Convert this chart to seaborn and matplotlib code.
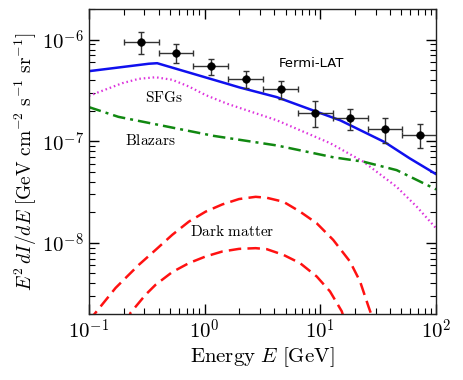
import numpy as np
import pandas as pd
import matplotlib
matplotlib.use("Agg")
import matplotlib.pyplot as plt
import seaborn as sns

# Fermi-LAT data points (bins are factor-2 wide)
e_lo = [0.2, 0.4, 0.8, 1.6, 3.2, 6.4, 12.8, 25.6, 51.2]
e_hi = [0.4, 0.8, 1.6, 3.2, 6.4, 12.8, 25.6, 51.2, 102.4]
e_pts = [0.283, 0.566, 1.13, 2.26, 4.53, 9.05, 18.1, 36.2, 72.4]
flux = [9.6e-7, 7.4e-7, 5.5e-7, 4.1e-7, 3.26e-7, 1.92e-7, 1.68e-7, 1.33e-7, 1.16e-7]
flux_hi = [1.2e-6, 9.0e-7, 6.47e-7, 4.9e-7, 3.93e-7, 2.47e-7, 2.09e-7, 1.71e-7, 1.48e-7]
flux_lo = [7.2e-7, 5.95e-7, 4.47e-7, 3.36e-7, 2.58e-7, 1.37e-7, 1.29e-7, 9.7e-8, 8.6e-8]

# model curves
tot_e = [0.1, 0.33, 0.389, 1.57, 2.0, 4.2, 14.8, 36.0, 59.0, 100.0]
tot_f = [4.9e-7, 5.8e-7, 5.87e-7, 3.68e-7, 3.39e-7, 2.72e-7, 1.61e-7, 9.8e-8, 6.8e-8, 4.74e-8]

sfg_e = [0.1, 0.194, 0.27, 0.377, 0.525, 0.731, 1.02, 1.57, 4.2, 12.1, 23.5, 45.6, 68.0, 100.0]
sfg_f = [2.8e-7, 3.73e-7, 4.12e-7, 4.27e-7, 4.03e-7, 3.46e-7, 2.85e-7, 2.34e-7, 1.61e-7,
         9.6e-8, 6.3e-8, 3.56e-8, 2.27e-8, 1.39e-8]

blz_e = [0.1, 0.18, 1.2, 4.2, 13.0, 23.5, 45.6, 100.0]
blz_f = [2.17e-7, 1.74e-7, 1.13e-7, 9.1e-8, 6.95e-8, 6.3e-8, 5.2e-8, 3.36e-8]

dm1_e = [0.1, 0.114, 0.17, 0.27, 0.377, 0.525, 0.731, 1.02, 1.42, 1.98, 2.76, 3.44, 4.79,
         6.67, 9.29, 12.9, 18.0, 22.0, 26.0, 27.2, 28.5]
dm1_f = [1.7e-9, 2.05e-9, 3.6e-9, 6.08e-9, 8.53e-9, 1.2e-8, 1.62e-8, 2.03e-8, 2.39e-8, 2.7e-8,
         2.84e-8, 2.78e-8, 2.54e-8, 2.03e-8, 1.56e-8, 1.07e-8, 6.56e-9, 4.18e-9, 2.37e-9, 2.05e-9, 1.6e-9]

dm2_e = [0.21, 0.229, 0.309, 0.377, 0.525, 0.731, 1.02, 1.42, 1.98, 2.76, 3.44, 4.79, 6.67,
         9.29, 12.1, 15.3, 16.5]
dm2_f = [1.6e-9, 2.05e-9, 3.09e-9, 3.87e-9, 5.16e-9, 6.32e-9, 7.35e-9, 8.22e-9, 8.73e-9, 8.87e-9,
         8.67e-9, 7.62e-9, 6.32e-9, 4.67e-9, 3.33e-9, 2.12e-9, 1.6e-9]

sns.set_style("ticks", {"text.color": "black", "axes.labelcolor": "black",
                        "xtick.color": "black", "ytick.color": "black",
                        "axes.edgecolor": "#222222"})
plt.rcParams['mathtext.fontset'] = 'cm'
plt.rcParams['font.family'] = ['DejaVu Sans']

fig = plt.figure(figsize=(4.63, 3.80), dpi=100)
ax = fig.add_axes([0.192, 0.174, 0.750, 0.802])

def curve(xs, ys, **kw):
    df = pd.DataFrame({"E": xs, "F": ys})
    sns.lineplot(data=df, x="E", y="F", ax=ax, sort=False, estimator=None, **kw)

curve(tot_e, tot_f, color="#1010ee", lw=1.8)
curve(sfg_e, sfg_f, color="#dd33dd", lw=1.6, linestyle=(0, (0.7, 1.3)))
curve(blz_e, blz_f, color="#118811", lw=1.8, linestyle=(0, (5, 2, 1.2, 2)))
curve(dm1_e, dm1_f, color="#ff1111", lw=1.8, linestyle=(0, (5, 2.5)))
curve(dm2_e, dm2_f, color="#ff1111", lw=1.8, linestyle=(0, (5, 2.5)))

xerr = [np.array(e_pts) - np.array(e_lo), np.array(e_hi) - np.array(e_pts)]
yerr = [np.array(flux) - np.array(flux_lo), np.array(flux_hi) - np.array(flux)]
ax.errorbar(e_pts, flux, xerr=xerr, yerr=yerr, fmt="none", ecolor="#333333",
            elinewidth=1.0, capsize=2.5, capthick=1.0, zorder=5)
sns.scatterplot(x=e_pts, y=flux, ax=ax, color="black", s=30, edgecolor="black", zorder=6)

ax.set_xscale("log")
ax.set_yscale("log")
ax.set_xlim(0.1, 100)
ax.set_ylim(2e-9, 2e-6)

ax.set_xticks([0.1, 1, 10, 100])
ax.set_xticklabels([r"$10^{\mathsf{-1}}$", r"$10^{\mathsf{0}}$", r"$10^{\mathsf{1}}$", r"$10^{\mathsf{2}}$"])
ax.set_yticks([1e-8, 1e-7, 1e-6])
ax.set_yticklabels([r"$10^{\mathsf{-8}}$", r"$10^{\mathsf{-7}}$", r"$10^{\mathsf{-6}}$"])
ax.tick_params(which="both", direction="in", top=True, right=True, labelsize=15)
ax.tick_params(which="major", length=7, width=1)
ax.tick_params(which="minor", length=4, width=0.8)
for s in ax.spines.values():
    s.set_linewidth(1.0)

ax.set_xlabel(r"$\mathrm{Energy}\ E\ [\mathrm{GeV}]$", fontsize=15, labelpad=2)
ax.set_ylabel(r"$E^2\,dI/dE\ [\mathrm{GeV\ cm^{-2}\ s^{-1}\ sr^{-1}}]$", fontsize=14, labelpad=2)

ax.text(8.3, 5.8e-7, "Fermi-LAT", fontsize=9.5, ha="center", va="center")
ax.text(0.448, 2.72e-7, r"$\mathrm{SFGs}$", fontsize=11, ha="center", va="center")
ax.text(0.336, 1.02e-7, r"$\mathrm{Blazars}$", fontsize=11, ha="center", va="center")
ax.text(1.72, 1.29e-8, r"$\mathrm{Dark\ matter}$", fontsize=11, ha="center", va="center")

fig.savefig("out.png", dpi=100)
